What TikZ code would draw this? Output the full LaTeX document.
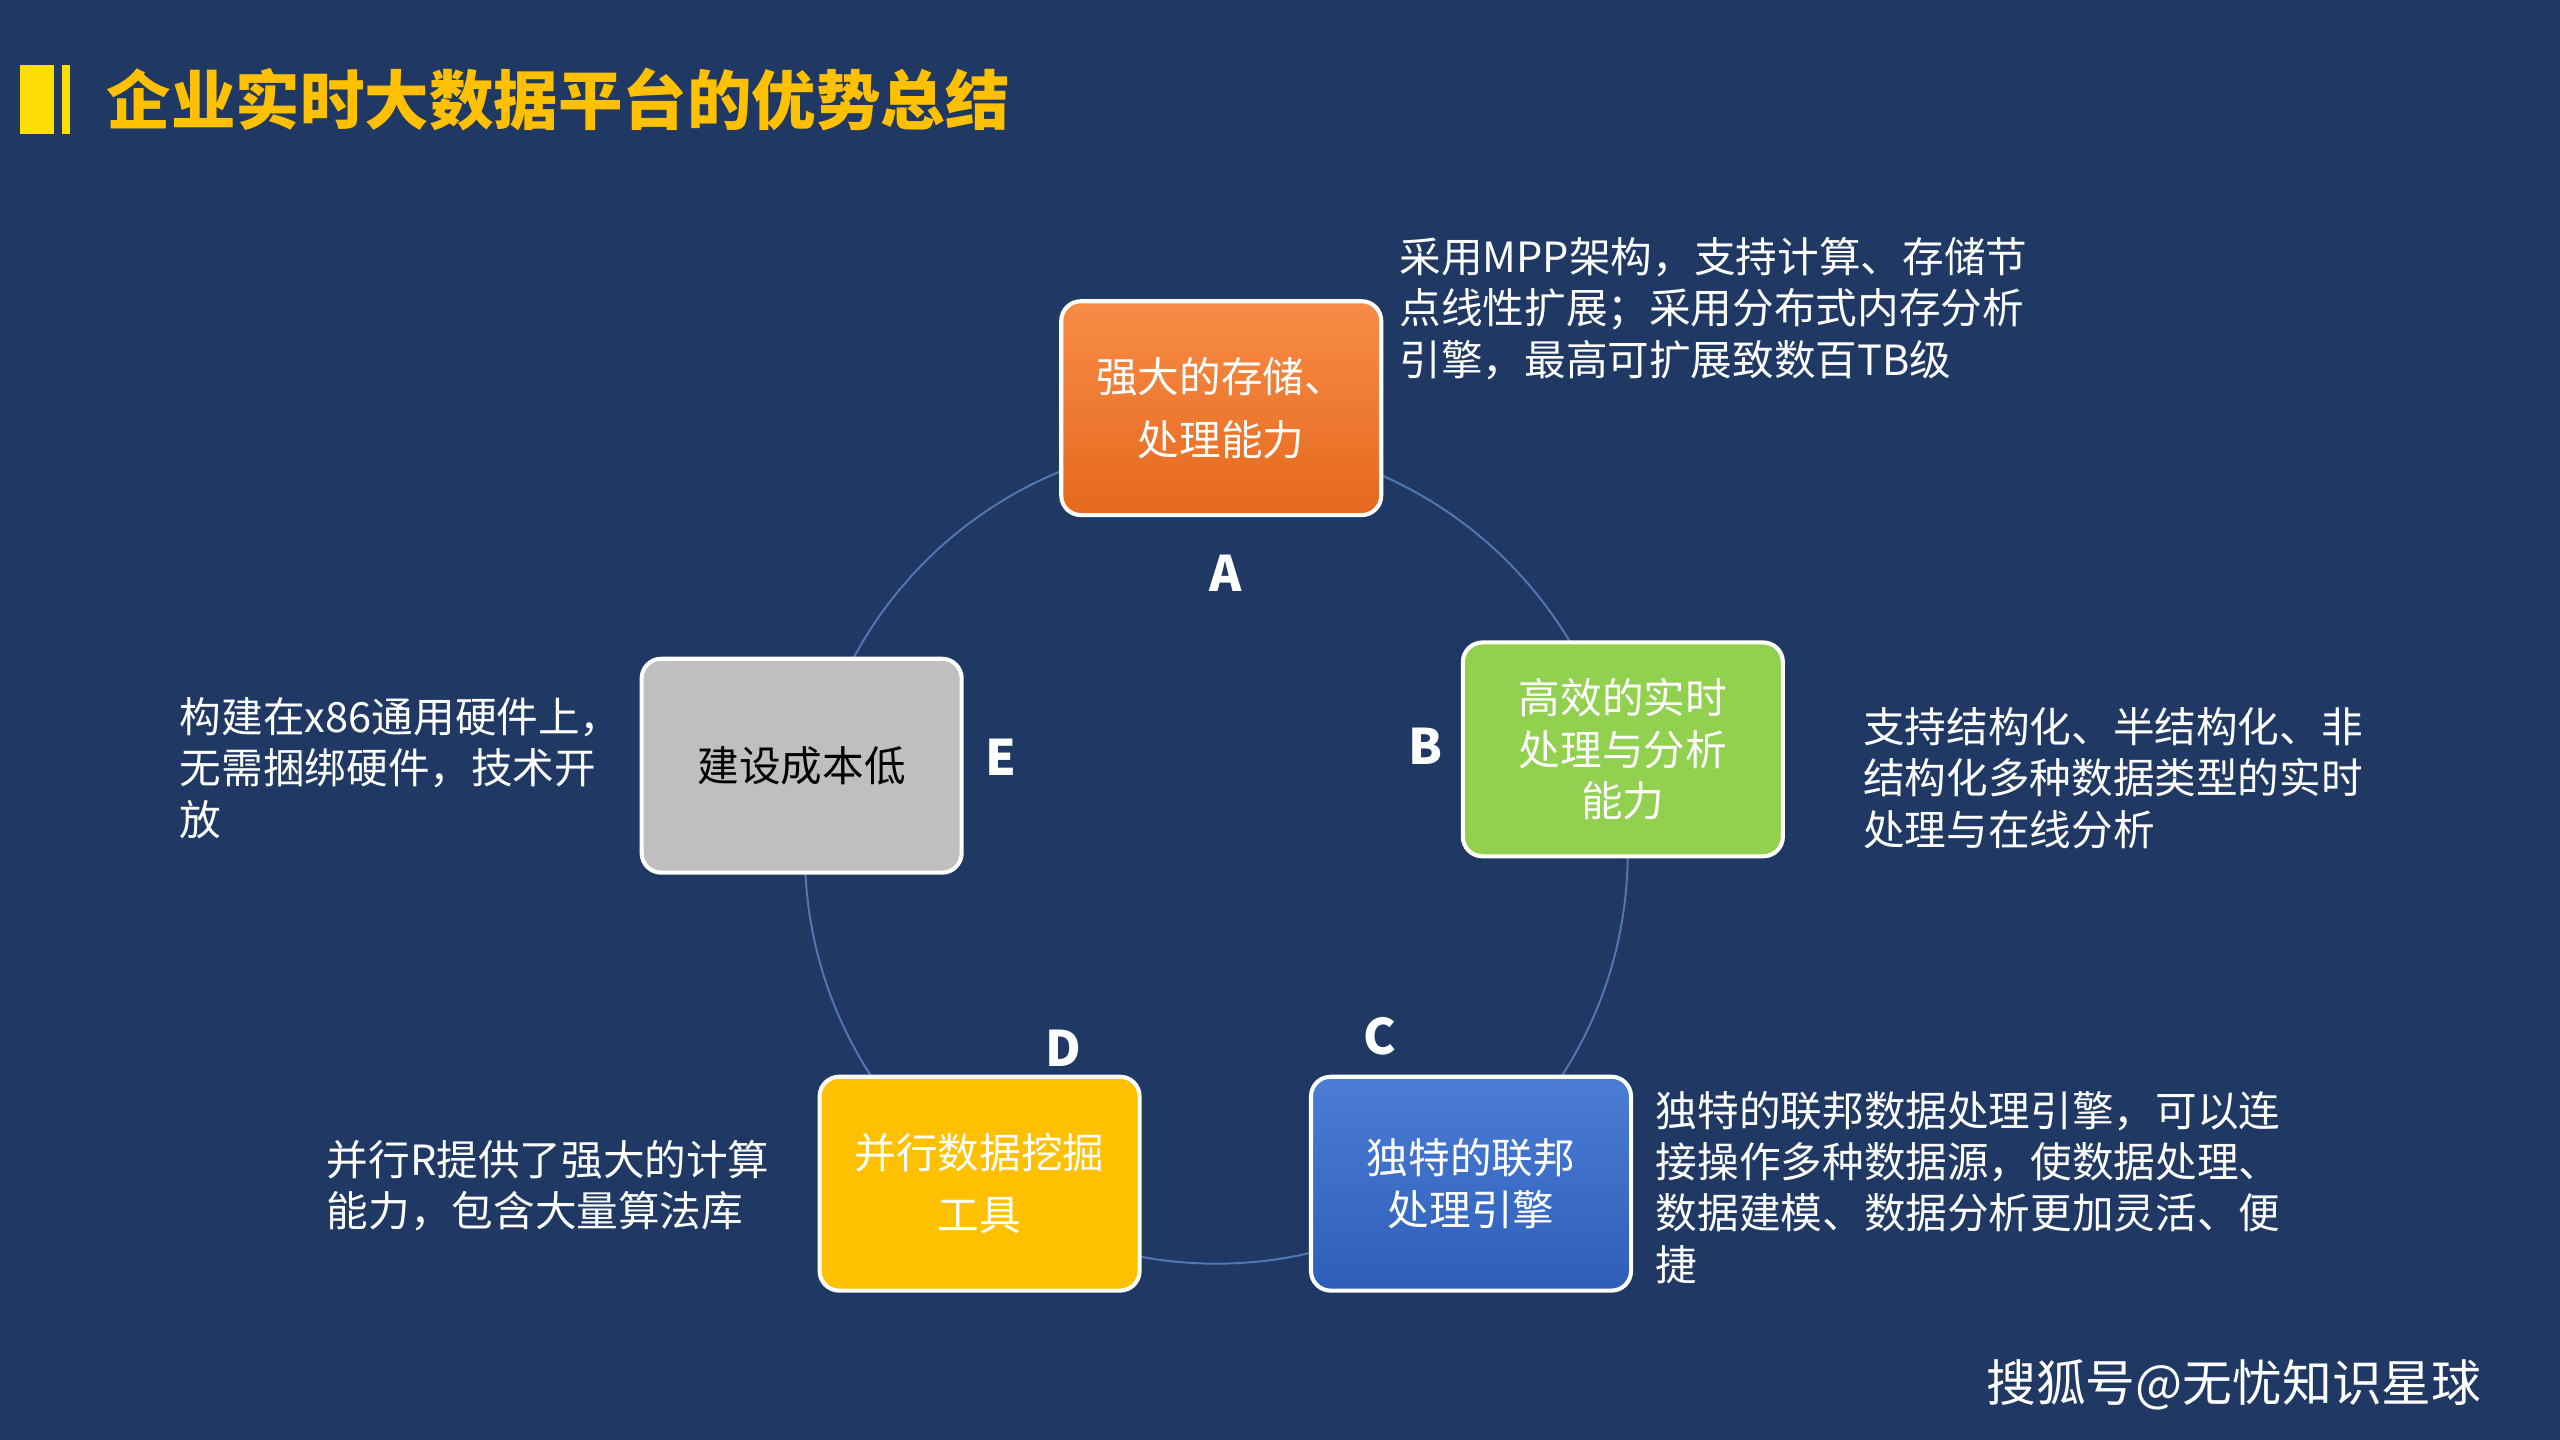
\documentclass[tikz,border=0pt]{standalone}
\usepackage{fontspec}
\setmainfont{Noto Sans CJK SC}
\begin{document}
\begin{tikzpicture}[x=1pt,y=-1pt,
 box/.style={draw=white,line width=2.5pt,rounded corners=12pt,minimum width=196pt,minimum height=131pt,align=center,font=\fontsize{25.5}{38}\selectfont,text=white},
 lett/.style={font=\fontsize{30}{30}\selectfont\bfseries,text=white},
 desc/.style={font=\fontsize{25.5}{31.5}\selectfont,text=white,align=left,anchor=north west,inner sep=0pt}]
\definecolor{bg}{RGB}{31,56,100}
\fill[bg] (0,0) rectangle (1568,882);
\useasboundingbox (0,0) rectangle (1568,882);
\fill[yellow!80!orange] (12,40) rectangle (33,82);
\fill[yellow!80!orange] (38,40) rectangle (43,82);
\node[anchor=west,text={rgb,255:red,255;green,192;blue,0},font=\fontsize{39.5}{39.5}\selectfont\bfseries] (title) at (62,61) {企业实时大数据平台的优势总结};
\draw[color={rgb,255:red,80;green,120;blue,180},line width=1.2pt] (745,522) circle (252);
\node[box,top color={rgb,255:red,247;green,140;blue,70},bottom color={rgb,255:red,230;green,105;blue,30}] (A) at (748,250) {强大的存储、\\处理能力};
\node[box,fill={rgb,255:red,146;green,208;blue,80},font=\fontsize{25.5}{31.5}\selectfont] (B) at (994,459) {高效的实时\\处理与分析\\能力};
\node[box,top color={rgb,255:red,75;green,125;blue,215},bottom color={rgb,255:red,45;green,95;blue,185},font=\fontsize{25.5}{31.5}\selectfont] (C) at (901,725) {独特的联邦\\处理引擎};
\node[box,fill={rgb,255:red,255;green,192;blue,0}] (D) at (600,725) {并行数据挖掘\\工具};
\node[box,fill={rgb,255:red,191;green,191;blue,191},text=black] (E) at (491,469) {建设成本低};
\node[lett] (la) at (751,351) {A};
\node[lett] (lb) at (873,457) {B};
\node[lett] (lc) at (845,635) {C};
\node[lett] (ld) at (651,642) {D};
\node[lett] (le) at (613,464) {E};
\node[desc] (da) at (857,145) {采用MPP架构，支持计算、存储节\\点线性扩展；采用分布式内存分析\\引擎，最高可扩展致数百TB级};
\node[desc] (db) at (1141,433) {支持结构化、半结构化、非\\结构化多种数据类型的实时\\处理与在线分析};
\node[desc] (dc) at (1014,668) {独特的联邦数据处理引擎，可以连\\接操作多种数据源，使数据处理、\\数据建模、数据分析更加灵活、便\\捷};
\node[desc] (dd) at (200,698) {并行R提供了强大的计算\\能力，包含大量算法库};
\node[desc] (de) at (110,427) {构建在x86通用硬件上，\\无需捆绑硬件，技术开\\放};
\node[anchor=west,text=white,font=\fontsize{30.5}{30.5}\selectfont] (wm) at (1213,848) {搜狐号@无忧知识星球};
\end{tikzpicture}
\end{document}
